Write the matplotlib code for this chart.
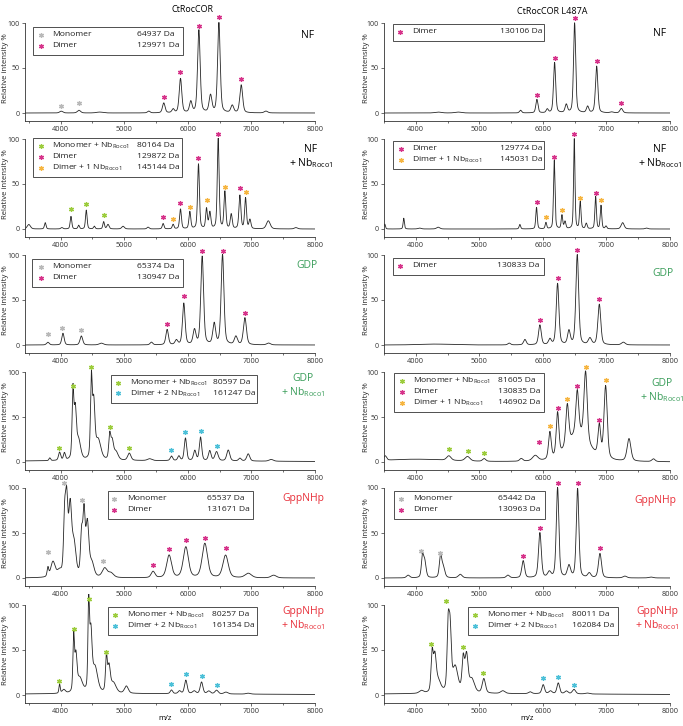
import numpy as np
import matplotlib
matplotlib.use("Agg")
import matplotlib.pyplot as plt
from matplotlib.patches import Rectangle
from matplotlib.lines import Line2D

plt.rcParams['font.family'] = ['Open Sans', 'DejaVu Sans']
plt.rcParams['mathtext.fontset'] = 'custom'
plt.rcParams['mathtext.rm'] = 'Open Sans'

# colours of the charge-state markers
cols = {'grey': '#b9b9b9', 'pink': '#d6338a', 'green': '#9ccc3c',
        'orange': '#f6b540', 'cyan': '#4cc0d8'}
nb = 'Nb$_{\\mathregular{Roco1}}$'

# ---- peak lists: (m/z, relative intensity, half width) ----
nf_wt = [(4010, 2, 30), (4289, 3, 30), (4614, 1, 60), (5386, 2, 24), (5622, 11, 24),
         (5769, 4, 22), (5885, 38, 24), (6047, 12, 24), (6174, 92, 24), (6357, 19, 26),
         (6489, 100, 24), (6699, 8, 26), (6840, 31, 26), (7229, 2, 32)]
nf_mut = [(4352, 1, 60), (4667, 1, 60), (5649, 3, 20), (5906, 15, 20), (6069, 4, 20),
          (6184, 56, 20), (6368, 9, 22), (6499, 100, 20), (6704, 7, 22), (6846, 52, 22),
          (7082, 1, 30), (7234, 5, 26)]
nf_nb_wt = [(3500, 5, 30), (3758, 7, 15), (4020, 1.5, 20), (4163, 14, 15), (4284, 4, 15),
            (4404, 21, 15), (4530, 3, 15), (4677, 8, 15), (4745, 5, 20), (4982, 3, 25),
            (5375, 2, 20), (5612, 6, 16), (5769, 5, 16), (5885, 22, 17), (6032, 19, 17),
            (6168, 72, 17), (6294, 22, 16), (6347, 18, 18), (6478, 100, 17), (6583, 41, 17),
            (6683, 16, 18), (6819, 37, 18), (6908, 34, 17), (6977, 10, 18), (7266, 9, 35),
            (7700, 1.5, 30)]
nf_nb_mut = [(3512, 5.5, 12), (3811, 12, 12), (4060, 1, 30), (4352, 2, 30), (5638, 5, 14),
             (5900, 24, 14), (6048, 7, 14), (6179, 76, 14), (6300, 15, 14), (6348, 8, 16),
             (6494, 100, 13), (6588, 30, 14), (6683, 6, 16), (6830, 36, 14), (6914, 26, 14),
             (6993, 3, 15), (7255, 7, 28), (7630, 1, 25)]
gdp_wt = [(3800, 3, 25), (4037, 13, 22), (4326, 10, 25), (4640, 2, 40), (5428, 3, 25),
          (5675, 17, 24), (5820, 5, 25), (5937, 46, 24), (6105, 16, 26), (6226, 98, 26),
          (6415, 23, 26), (6546, 100, 26), (6756, 9, 28), (6898, 30, 28), (7270, 2, 35)]
gdp_mut = [(4300, 1, 300), (5470, 2, 25), (5717, 6, 25), (5953, 22, 25), (6110, 6, 25),
           (6231, 68, 25), (6410, 15, 25), (6541, 100, 26), (6740, 7, 30), (6888, 45, 27),
           (7266, 3, 35)]
gdp_nb_wt = [(5000, 1.5, 2500), (3830, 3, 15), (3984, 9, 20), (4060, 8, 18), (4194, 75, 16),
             (4230, 50, 20), (4280, 22, 40), (4483, 86, 16), (4520, 60, 22), (4590, 22, 50),
             (4772, 26, 18), (4810, 20, 25), (4870, 9, 40), (5080, 8, 30), (5400, 2, 40),
             (5743, 5, 22), (5860, 5, 22), (5963, 25, 22), (6110, 11, 24), (6200, 26, 22),
             (6345, 11, 24), (6452, 10, 30), (6636, 12, 28), (6820, 3, 25), (6950, 8, 28),
             (7310, 2, 40)]
gdp_nb_mut = [(3520, 5, 25), (4000, 3, 600), (4520, 5, 40), (4814, 5, 45), (5076, 3, 30),
              (5660, 3, 30), (5880, 6, 50), (6550, 30, 200), (6110, 30, 25), (6231, 48, 25),
              (6384, 45, 27), (6541, 48, 27), (6672, 77, 30), (6888, 34, 25), (6987, 81, 30),
              (7355, 25, 35), (7740, 3, 30)]
gppnhp_wt = [(3800, 10, 15), (3880, 17, 40), (3980, 6, 40), (4063, 60, 20), (4095, 78, 22),
             (4150, 75, 28), (4210, 35, 35), (4330, 45, 20), (4368, 66, 20), (4420, 58, 28),
             (4490, 15, 40), (4693, 10, 45), (4790, 5, 50), (5454, 7, 35), (5706, 25, 45),
             (5969, 34, 48), (6268, 38, 50), (6594, 25, 50), (6951, 5, 60), (7350, 3, 50)]
gppnhp_mut = [(3880, 3, 30), (4105, 22, 20), (4140, 18, 25), (4389, 23, 22), (4430, 12, 30),
              (4700, 4, 35), (5450, 3, 30), (5690, 19, 26), (5953, 50, 26), (6100, 6, 30),
              (6231, 100, 24), (6410, 13, 30), (6546, 99, 24), (6730, 5, 30), (6898, 27, 28),
              (7290, 2, 35), (7700, 1, 40)]
gppnhp_nb_wt = [(5000, 1.5, 2500), (3984, 10, 12), (4050, 4, 30), (4205, 60, 14), (4240, 38, 20),
                (4300, 16, 50), (4441, 92, 14), (4475, 62, 22), (4540, 28, 50), (4719, 38, 16),
                (4760, 28, 25), (4830, 11, 50), (5034, 8, 35), (5743, 4, 22), (5870, 3, 25),
                (5969, 15, 25), (6100, 3, 30), (6216, 13, 25), (6330, 3, 30), (6452, 4, 30),
                (6600, 2, 35), (6950, 1, 40)]
gppnhp_nb_mut = [(5000, 1.5, 2500), (4089, 3, 40), (4257, 42, 20), (4300, 36, 25), (4350, 13, 50),
                 (4509, 68, 20), (4540, 64, 22), (4620, 28, 50), (4746, 36, 22), (4798, 40, 28),
                 (4880, 15, 50), (5071, 16, 30), (5370, 3, 40), (5800, 2, 30), (6005, 10, 25),
                 (6120, 3, 30), (6242, 12, 25), (6370, 3, 30), (6489, 5, 30), (6700, 1, 40)]

# ---- asterisks: (colour, m/z list, height list) ----
nf_wt_stars = [('grey', [4010, 4289], [8, 11]),
               ('pink', [5622, 5885, 6174, 6489, 6840], [18, 46, 97, 107, 38])]
nf_mut_stars = [('pink', [5906, 6184, 6499, 6846, 7234], [20, 61, 106, 58, 11])]
nf_nb_wt_stars = [('green', [4163, 4404, 4677], [22, 28, 15]),
                  ('pink', [5612, 5885, 6168, 6478, 6819], [13, 29, 79, 106, 46]),
                  ('orange', [5769, 6032, 6294, 6583, 6908], [11, 24, 32, 47, 41])]
nf_nb_mut_stars = [('pink', [5900, 6179, 6494, 6830], [30, 80, 105, 40]),
                   ('orange', [6048, 6300, 6588, 6914], [13, 21, 34, 32])]
gdp_wt_stars = [('grey', [3800, 4027, 4326], [12, 19, 17]),
                ('pink', [5675, 5937, 6226, 6546, 6898], [23, 54, 104, 105, 36])]
gdp_mut_stars = [('pink', [5953, 6231, 6541, 6888], [28, 75, 106, 51])]
gdp_nb_wt_stars = [('green', [3969, 4194, 4483, 4772, 5080], [16, 85, 106, 39, 16]),
                   ('cyan', [5743, 5963, 6200, 6452], [13, 33, 34, 18])]
gdp_nb_mut_stars = [('green', [4520, 4814, 5076], [15, 12, 10]),
                    ('pink', [5942, 6231, 6541, 6888], [22, 60, 85, 47]),
                    ('orange', [6110, 6384, 6672, 6987], [40, 70, 106, 91])]
gppnhp_wt_stars = [('grey', [3800, 4052, 4341, 4661], [29, 106, 87, 19]),
                   ('pink', [5454, 5706, 5969, 6268, 6594], [14, 32, 42, 45, 33])]
gppnhp_mut_stars = [('grey', [4089, 4378], [30, 28]),
                    ('pink', [5690, 5953, 6231, 6546, 6898], [25, 56, 106, 106, 33])]
gppnhp_nb_wt_stars = [('green', [3969, 4205, 4441, 4719], [16, 73, 107, 48]),
                      ('cyan', [5743, 5969, 6216, 6452], [12, 23, 21, 11])]
gppnhp_nb_mut_stars = [('green', [4247, 4483, 4746, 5060], [57, 104, 53, 25]),
                       ('cyan', [6005, 6242, 6489], [19, 20, 11])]

# ---- legend entries ----
nf_wt_leg = [('grey', 'Monomer', '64937 Da'), ('pink', 'Dimer', '129971 Da')]
nf_mut_leg = [('pink', 'Dimer', '130106 Da')]
nf_nb_wt_leg = [('green', 'Monomer + ' + nb, '80164 Da'), ('pink', 'Dimer', '129872 Da'),
                ('orange', 'Dimer + 1 ' + nb, '145144 Da')]
nf_nb_mut_leg = [('pink', 'Dimer', '129774 Da'), ('orange', 'Dimer + 1 ' + nb, '145031 Da')]
gdp_wt_leg = [('grey', 'Monomer', '65374 Da'), ('pink', 'Dimer', '130947 Da')]
gdp_mut_leg = [('pink', 'Dimer', '130833 Da')]
gdp_nb_wt_leg = [('green', 'Monomer + ' + nb, '80597 Da'), ('cyan', 'Dimer + 2 ' + nb, '161247 Da')]
gdp_nb_mut_leg = [('green', 'Monomer + ' + nb, '81605 Da'), ('pink', 'Dimer', '130835 Da'),
                  ('orange', 'Dimer + 1 ' + nb, '146902 Da')]
gppnhp_wt_leg = [('grey', 'Monomer', '65537 Da'), ('pink', 'Dimer', '131671 Da')]
gppnhp_mut_leg = [('grey', 'Monomer', '65442 Da'), ('pink', 'Dimer', '130963 Da')]
gppnhp_nb_wt_leg = [('green', 'Monomer + ' + nb, '80257 Da'), ('cyan', 'Dimer + 2 ' + nb, '161354 Da')]
gppnhp_nb_mut_leg = [('green', 'Monomer + ' + nb, '80011 Da'), ('cyan', 'Dimer + 2 ' + nb, '162084 Da')]

conditions = ['NF', 'NF\n+ ' + nb, 'GDP', 'GDP\n+ ' + nb, 'GppNHp', 'GppNHp\n+ ' + nb]
cond_colors = ['black', 'black', '#3a9d5a', '#3a9d5a', '#e8303a', '#e8303a']

panels = [
    (nf_wt, nf_wt_stars, nf_wt_leg), (nf_mut, nf_mut_stars, nf_mut_leg),
    (nf_nb_wt, nf_nb_wt_stars, nf_nb_wt_leg), (nf_nb_mut, nf_nb_mut_stars, nf_nb_mut_leg),
    (gdp_wt, gdp_wt_stars, gdp_wt_leg), (gdp_mut, gdp_mut_stars, gdp_mut_leg),
    (gdp_nb_wt, gdp_nb_wt_stars, gdp_nb_wt_leg), (gdp_nb_mut, gdp_nb_mut_stars, gdp_nb_mut_leg),
    (gppnhp_wt, gppnhp_wt_stars, gppnhp_wt_leg), (gppnhp_mut, gppnhp_mut_stars, gppnhp_mut_leg),
    (gppnhp_nb_wt, gppnhp_nb_wt_stars, gppnhp_nb_wt_leg),
    (gppnhp_nb_mut, gppnhp_nb_mut_stars, gppnhp_nb_mut_leg),
]

# ---- layout (pixels) ----
W, H = 683, 726
zero_px = [113, 229, 345, 462, 578, 695]
# legend box: x0, top (relative to zero line), x1, marker x, name x, mass x
leg_layout = [
    (33, -86, 183, 41, 52, 137), (393, -89, 544, 400, 412, 500),
    (33, -91, 182, 41, 52, 137), (393, -88, 544, 401, 412, 500),
    (32, -86, 183, 41, 52, 137), (393, -87, 544, 400, 412, 497),
    (111, -87, 257, 118, 130, 213), (394, -89, 544, 402, 413, 498),
    (108, -87, 253, 114, 127, 207), (394, -87, 545, 401, 413, 498),
    (108, -88, 257, 115, 127, 212), (468, -88, 618, 475, 487, 572),
]
cond_pos = [(308, 35), (660, 33), (311, 157), (660, 157), (307, 265), (663, 273),
            (303, 386), (662, 391), (303, 499), (655, 501), (303, 619), (657, 619)]


def fx(x):
    return x / W


def fy(y):
    return 1 - y / H


def spectrum(mz, peaks):
    y = np.zeros_like(mz)
    for c, h, w in peaks:
        d = (mz - c) / w
        y += h * (0.6 * np.exp(-np.log(2) * d ** 2) + 0.4 / (1 + d ** 2))
    return y


fig = plt.figure(figsize=(W / 100, H / 100), dpi=100)
mz = np.linspace(3400, 8000, 3000)
ymin, ymax = -8.5, 112
for i, (peaks, stars, leg) in enumerate(panels):
    row, colm = divmod(i, 2)
    z = zero_px[row]
    if colm == 0:
        x0, x1, xlo = 25, 315, 3440
    else:
        x0, x1, xlo = 384, 670, 3500
    bot = z - ymin * 0.9
    top = z - ymax * 0.9
    ax = fig.add_axes([fx(x0), fy(bot), (x1 - x0) / W, (bot - top) / H])
    m = mz >= xlo
    ax.plot(mz[m], spectrum(mz[m], peaks), color='#262626', lw=0.6)
    for c, xs, ys in stars:
        ax.plot(xs, ys, ls='none', marker=(6, 2, 0), ms=3.6, mew=0.9,
                color=cols[c], clip_on=False)
    ax.set_xlim(xlo, 8000)
    ax.set_ylim(ymin, ymax)
    for s in ['top', 'right']:
        ax.spines[s].set_visible(False)
    for s in ['left', 'bottom']:
        ax.spines[s].set_linewidth(0.6)
        ax.spines[s].set_color('#333333')
    ax.spines['left'].set_bounds(ymin, 100)
    ax.set_yticks([0, 50, 100])
    ax.set_xticks([4000, 5000, 6000, 7000, 8000])
    ax.set_xticks(np.arange(3500, 8001, 500), minor=True)
    ax.tick_params(labelsize=5.3, length=2.2, width=0.5, pad=1.5, colors='#333333')
    ax.tick_params(which='minor', length=1.6, width=0.5, colors='#333333')
    ax.tick_params(axis='y', labelsize=5)
    ax.patch.set_visible(False)

    # y label
    fig.text(fx(x0 - 19 if colm == 0 else x0 - 17), fy(z - 45), 'Relative intensity %',
             rotation=90, ha='center', va='center', fontsize=5.6, color='#222222')

    # legend box
    lx0, ltop, lx1, mx, nx, vx = leg_layout[i]
    n = len(leg)
    ytop = z + ltop
    hbox = 6 + 11 * n
    fig.add_artist(Rectangle((fx(lx0), fy(ytop + hbox)), (lx1 - lx0) / W, hbox / H,
                             transform=fig.transFigure, fill=False, lw=0.6,
                             edgecolor='#333333'))
    for k, (c, name, mass) in enumerate(leg):
        yy = ytop + 7.5 + 11 * k
        fig.add_artist(Line2D([fx(mx)], [fy(yy)], transform=fig.transFigure, ls='none',
                              marker=(6, 2, 0), ms=3.6, mew=0.9, color=cols[c]))
        fig.text(fx(nx), fy(yy), name, ha='left', va='center', fontsize=6.1, color='#222222')
        fig.text(fx(vx), fy(yy), mass, ha='left', va='center', fontsize=6.1, color='#222222')

    # condition label
    cx, cy = cond_pos[i]
    fig.text(fx(cx), fy(cy), conditions[row], ha='center', va='center', fontsize=7.5,
             color=cond_colors[row], multialignment='center', linespacing=1.15)

fig.text(fx(193), fy(10), 'CtRocCOR', ha='center', va='center', fontsize=6.5)
fig.text(fx(552), fy(12), 'CtRocCOR L487A', ha='center', va='center', fontsize=6.5)
fig.text(fx(165), fy(719), 'm/z', ha='center', va='center', fontsize=5.5)
fig.text(fx(527), fy(719), 'm/z', ha='center', va='center', fontsize=5.5)

fig.savefig('out.png', dpi=100)
